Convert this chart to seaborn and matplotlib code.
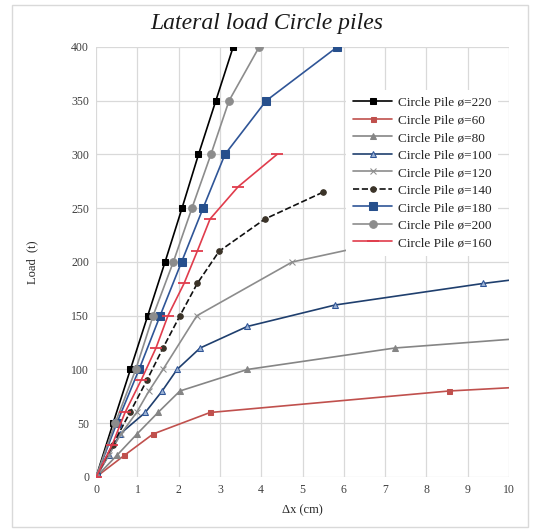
import pandas as pd
import seaborn as sns
import matplotlib.pyplot as plt
from matplotlib.patches import Rectangle

# Values (displacement in cm, load in t)
x220 = [0, 0.41, 0.83, 1.25, 1.67, 2.08, 2.48, 2.90, 3.32]
y220 = [0, 50, 100, 150, 200, 250, 300, 350, 400]

x60 = [0, 0.68, 1.38, 2.76, 8.55, 10]
y60 = [0, 20, 40, 60, 80, 83]

x80 = [0, 0.5, 0.99, 1.5, 2.03, 3.66, 7.24, 10]
y80 = [0, 20, 40, 60, 80, 100, 120, 128]

x100 = [0, 0.3, 0.58, 1.19, 1.6, 1.96, 2.52, 3.66, 5.79, 9.37, 10]
y100 = [0, 20, 40, 60, 80, 100, 120, 140, 160, 180, 183]

x120 = [0, 0.3, 0.6, 0.98, 1.28, 1.62, 2.44, 4.75, 8.6]
y120 = [0, 20, 40, 60, 80, 100, 150, 200, 232]

x140 = [0, 0.4, 0.82, 1.23, 1.62, 2.03, 2.45, 2.98, 4.09, 5.5]
y140 = [0, 30, 60, 90, 120, 150, 180, 210, 240, 265]

x180 = [0, 0.5, 1.04, 1.55, 2.07, 2.59, 3.12, 4.12, 5.84]
y180 = [0, 50, 100, 150, 200, 250, 300, 350, 400]

x200 = [0, 0.46, 0.96, 1.38, 1.87, 2.32, 2.78, 3.22, 3.95]
y200 = [0, 50, 100, 150, 200, 250, 300, 350, 400]

x160 = [0, 0.39, 0.70, 1.09, 1.45, 1.74, 2.13, 2.45, 2.76, 3.44, 4.38]
y160 = [0, 30, 60, 90, 120, 150, 180, 210, 240, 270, 300]

# legend order as in the reference
series = [
    ("Circle Pile ø=220", x220, y220, dict(color="#000000", marker="s", ms=4.5, mfc="#000000", mec="#000000")),
    ("Circle Pile ø=60", x60, y60, dict(color="#C0504D", marker="s", ms=3.6, mfc="#C0504D", mec="#C0504D")),
    ("Circle Pile ø=80", x80, y80, dict(color="#858585", marker="^", ms=4.2, mfc="#858585", mec="#858585")),
    ("Circle Pile ø=100", x100, y100, dict(color="#1F3F6E", marker="^", ms=4.5, mfc="#9DB3D4", mec="#2F5597")),
    ("Circle Pile ø=120", x120, y120, dict(color="#8C8C8C", marker="x", ms=5, mfc="#8C8C8C", mec="#8C8C8C")),
    ("Circle Pile ø=140", x140, y140, dict(color="#111111", marker="o", ms=4, mfc="#3B3328", mec="#3B3328", ls="--")),
    ("Circle Pile ø=180", x180, y180, dict(color="#2F5597", marker="s", ms=5.5, mfc="#264F8C", mec="#264F8C")),
    ("Circle Pile ø=200", x200, y200, dict(color="#8C8C8C", marker="o", ms=5.5, mfc="#8C8C8C", mec="#8C8C8C")),
    ("Circle Pile ø=160", x160, y160, dict(color="#E03C4C", marker="_", ms=8, mfc="#E03C4C", mec="#E03C4C", mew=1.3)),
]

sns.set_theme(style="whitegrid")
plt.rcParams['font.family'] = ['Liberation Serif', 'DejaVu Serif']

fig = plt.figure(figsize=(5.34, 5.31), dpi=100)
ax = fig.add_axes([0.180, 0.1017, 0.773, 0.8098])

for label, xs, ys, st in series:
    df = pd.DataFrame({"dx": xs, "load": ys})
    ls = st.pop("ls", "-")
    # no marker on points that run off the right edge of the plot
    n = len(xs)
    every = slice(0, n - 1) if xs[-1] >= 10 else slice(0, n)
    sns.lineplot(data=df, x="dx", y="load", ax=ax, label=label, estimator=None, sort=False,
                 linewidth=1.2, linestyle=ls, markevery=every, **st)

ax.set_xlim(0, 10)
ax.set_ylim(0, 400)
ax.set_xticks(range(0, 11))
ax.set_yticks(range(0, 401, 50))
ax.grid(True, color="#d9d9d9", linewidth=0.9)
for s in ax.spines.values():
    s.set_visible(False)
ax.tick_params(axis="both", length=0, labelsize=8.5, labelcolor="#404040", pad=5)
ax.set_xlabel("Δx (cm)", fontsize=9, color="#262626", labelpad=6)
ax.set_ylabel("Load  (t)", fontsize=9, color="#262626", labelpad=24)

fig.suptitle("Lateral load Circle piles", fontsize=17, style="italic", color="#1a1a1a", y=0.975)

leg = ax.legend(loc="upper left", bbox_to_anchor=(0.59, 0.915), fontsize=9.5, frameon=True,
                facecolor="white", edgecolor="none", framealpha=1, handlelength=3.0,
                labelspacing=0.4, borderpad=0.5, handletextpad=0.4)

fig.patches.append(Rectangle((12 / 534, 4 / 531), 516 / 534, 522 / 531, transform=fig.transFigure,
                             fill=False, edgecolor="#d9d9d9", linewidth=1))

fig.savefig("out.png", dpi=100)
